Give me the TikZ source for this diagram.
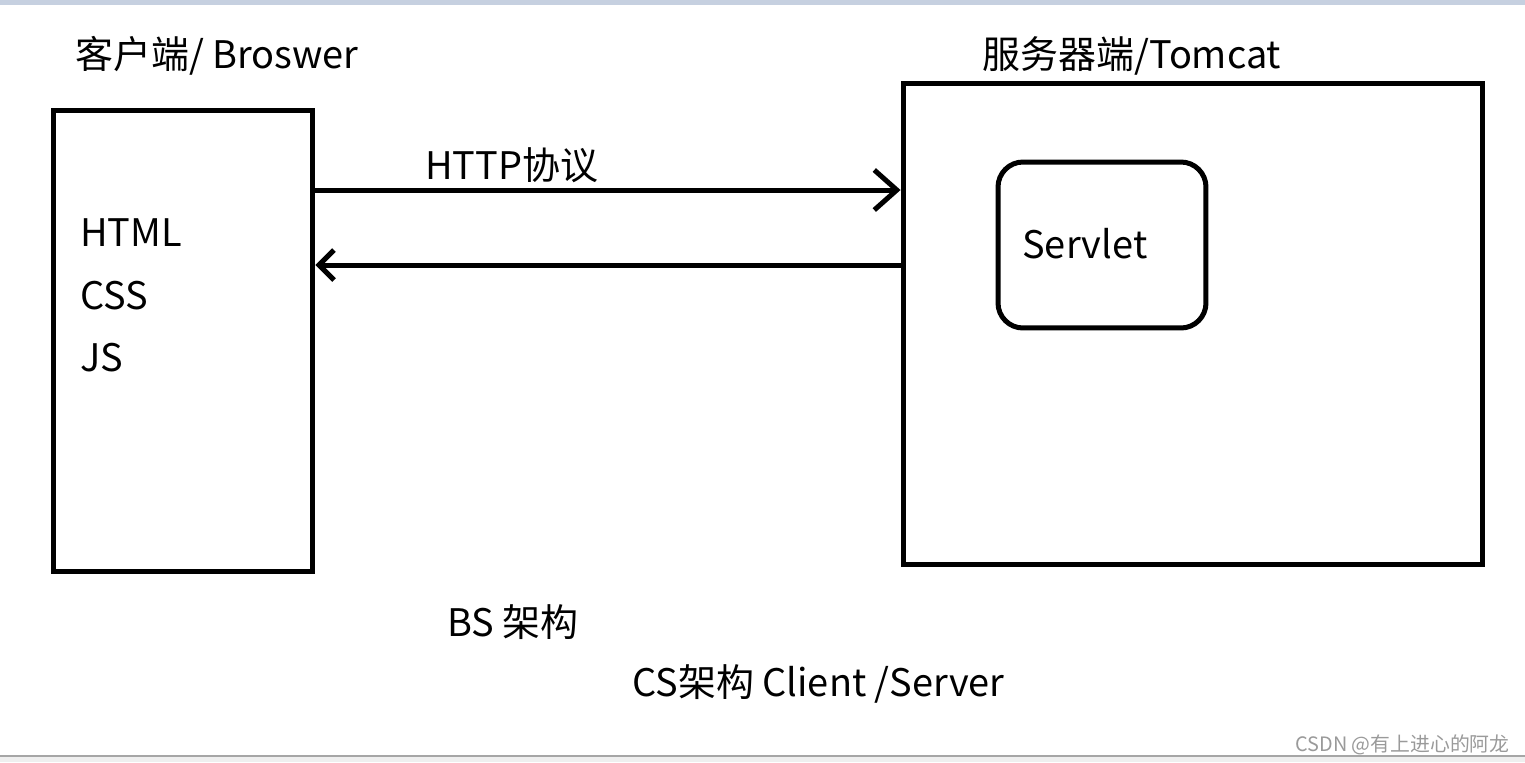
\documentclass[tikz,border=0pt]{standalone}
\usepackage{fontspec}
\setmainfont{Noto Sans CJK SC}
\usetikzlibrary{arrows.meta,positioning}
\definecolor{barblue}{HTML}{C6D0E0}
\definecolor{edgegray}{HTML}{A6A6A6}
\definecolor{stripgray}{HTML}{EFEFEF}
\definecolor{markgray}{HTML}{9A9A9A}

\tikzset{
  box/.style={draw,line width=0.1cm,inner sep=0pt},
  label/.style={anchor=base west,inner sep=0pt,font=\fontsize{21.6}{25}\selectfont},
  link/.style={line width=0.1cm,line cap=round}
}

\begin{document}
\begin{tikzpicture}[x=0.02cm,y=-0.02cm]
  \useasboundingbox (0,0) rectangle (1525,762);
  % window frame
  \fill[barblue] (0,0) rectangle (1525,5);
  \fill[stripgray] (0,757) rectangle (1525,762);
  \draw[edgegray,line width=0.04cm] (0,756) -- (1525,756);

  % client side
  \node[box,minimum width=5.2cm,minimum height=9.24cm] (client) at (183,341) {};
  \node[label] (clientname) at (75,68) {客户端/ Broswer};
  \node[label] (html) at (80,246) {HTML};
  \node[label] (css) at (80,309) {CSS};
  \node[label] (js) at (80,371) {JS};

  % server side
  \node[box,minimum width=11.6cm,minimum height=9.64cm] (server) at (1193,324) {};
  \node[label] (servername) at (982,68) {服务器端/Tomcat};
  \node[box,rounded corners=0.5cm,minimum width=4.16cm,minimum height=3.32cm] (servlet) at (1102,245) {};
  \node[label] (servletname) at (1022,258) {Servlet};

  % request / response
  \coordinate (req) at (600,190);
  \coordinate (resp) at (600,265);
  \draw[link,-{Straight Barb[length=0.45cm,width=0.8cm]}] (client.east |- req) -- (server.west |- req);
  \draw[link,-{Straight Barb[length=0.3cm,width=0.6cm]}] (server.west |- resp) -- (client.east |- resp);
  \node[label] (http) at (425,179) {HTTP协议};

  % captions
  \node[label] (bs) at (447,636) {BS 架构};
  \node[label] (cs) at (632,696) {CS架构 Client /Server};
  \node[anchor=base east,inner sep=0pt,text=markgray,font=\fontsize{11.3}{13}\selectfont] (mark) at (1510,751) {CSDN @有上进心的阿龙};
\end{tikzpicture}
\end{document}
